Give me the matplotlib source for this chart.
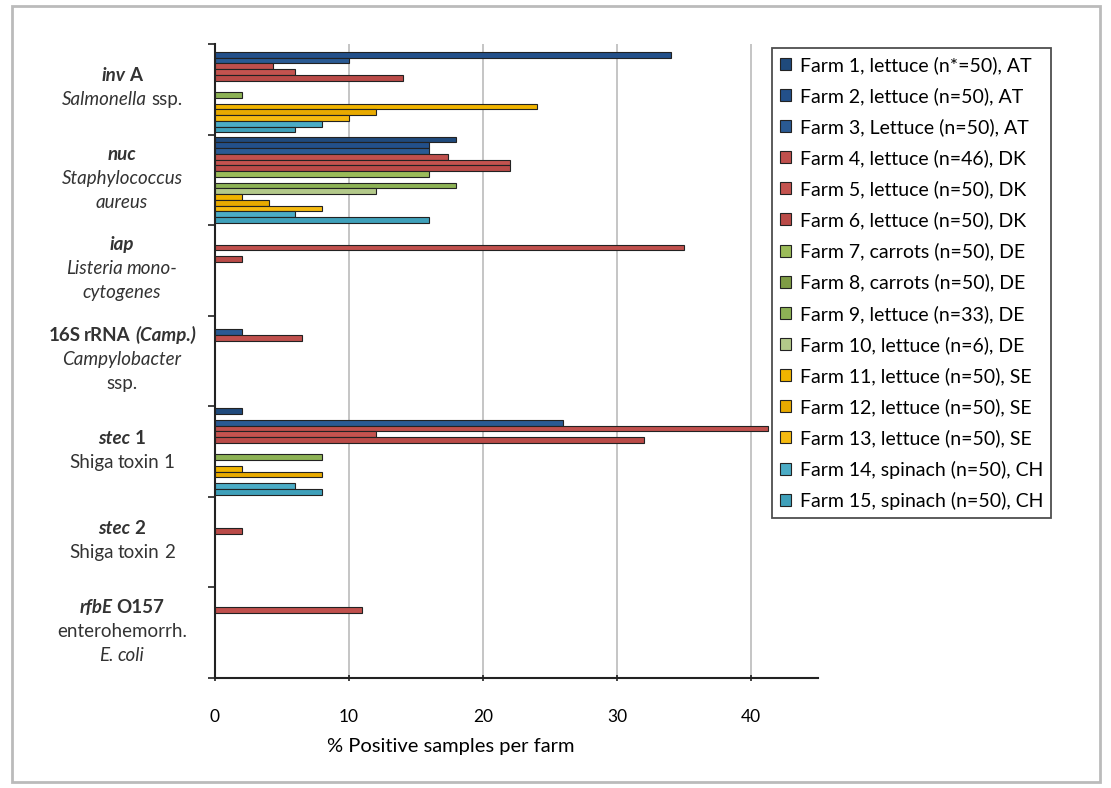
import matplotlib.pyplot as plt
import numpy as np
from matplotlib.patches import Rectangle, Patch
from matplotlib.transforms import IdentityTransform

plt.rcParams['font.family'] = ['Lato', 'DejaVu Sans']

farms = ['Farm 1, lettuce (n*=50), AT', 'Farm 2, lettuce (n=50), AT',
         'Farm 3, Lettuce (n=50), AT', 'Farm 4, lettuce (n=46), DK',
         'Farm 5, lettuce (n=50), DK', 'Farm 6, lettuce (n=50), DK',
         'Farm 7, carrots (n=50), DE', 'Farm 8, carrots (n=50), DE',
         'Farm 9, lettuce (n=33), DE', 'Farm 10, lettuce (n=6), DE',
         'Farm 11, lettuce (n=50), SE', 'Farm 12, lettuce (n=50), SE',
         'Farm 13, lettuce (n=50), SE', 'Farm 14, spinach (n=50), CH',
         'Farm 15, spinach (n=50), CH']
colors = ['#1F4A7C', '#23508A', '#2A5A93',
          '#C0504D', '#C4534F', '#BA4B48',
          '#9BBB59', '#7F9C45', '#8DB255', '#B3C98A',
          '#F0B400', '#E8AA00', '#F5BA10',
          '#4BACC6', '#3FA0BA']

# % positive samples per farm (farm 1..15) for each target gene
inv_a = [0, 34, 10, 4.3, 6, 14, 0, 0, 2, 0, 24, 12, 10, 8, 6]
nuc = [18, 16, 16, 17.4, 22, 22, 16, 0, 18, 12, 2, 4, 8, 6, 16]
iap = [0, 0, 0, 35, 0, 2, 0, 0, 0, 0, 0, 0, 0, 0, 0]
rrna_16s = [0, 0, 2, 6.5, 0, 0, 0, 0, 0, 0, 0, 0, 0, 0, 0]
stec1 = [2, 0, 26, 41.3, 12, 32, 0, 0, 8, 0, 2, 8, 0, 6, 8]
stec2 = [0, 0, 0, 0, 0, 2, 0, 0, 0, 0, 0, 0, 0, 0, 0]
rfbe = [0, 0, 0, 11, 0, 0, 0, 0, 0, 0, 0, 0, 0, 0, 0]

genes = [inv_a, nuc, iap, rrna_16s, stec1, stec2, rfbe]
values = np.array(genes)  # shape (7, 15)

# category labels: list of lines, each line a list of (text, weight, style)
gene_labels = [
    [[('inv', 'bold', 'italic'), ('A', 'bold', 'normal')],
     [('Salmonella', 'normal', 'italic'), ('ssp.', 'normal', 'normal')]],
    [[('nuc', 'bold', 'italic')],
     [('Staphylococcus', 'normal', 'italic')],
     [('aureus', 'normal', 'italic')]],
    [[('iap', 'bold', 'italic')],
     [('Listeria', 'normal', 'italic'), ('mono-', 'normal', 'italic')],
     [('cytogenes', 'normal', 'italic')]],
    [[('16S', 'bold', 'normal'), ('rRNA', 'bold', 'normal'), ('(Camp.)', 'bold', 'italic')],
     [('Campylobacter', 'normal', 'italic')],
     [('ssp.', 'normal', 'normal')]],
    [[('stec', 'bold', 'italic'), ('1', 'bold', 'normal')],
     [('Shiga', 'normal', 'normal'), ('toxin', 'normal', 'normal'), ('1', 'normal', 'normal')]],
    [[('stec', 'bold', 'italic'), ('2', 'bold', 'normal')],
     [('Shiga', 'normal', 'normal'), ('toxin', 'normal', 'normal'), ('2', 'normal', 'normal')]],
    [[('rfbE', 'bold', 'italic'), ('O157', 'bold', 'normal')],
     [('enterohemorrh.', 'normal', 'normal')],
     [('E.', 'normal', 'italic'), ('coli', 'normal', 'italic')]],
]

W, H = 1111, 788
fig = plt.figure(figsize=(W / 100, H / 100), dpi=100)
ax = fig.add_axes([215 / W, 1 - 678 / H, (818 - 215) / W, (678 - 44) / H])

y = np.arange(len(genes))
bh = 0.0635
for k in range(len(farms)):
    bars = ax.barh(y + (k - 7) * bh, values[:, k], height=bh, color=colors[k],
                   edgecolor='#222222', linewidth=0.8, zorder=3)
    for p in bars.patches:
        if p.get_width() == 0:
            p.set_visible(False)

ax.set_xlim(0, 45)
ax.set_ylim(len(genes) - 0.5, -0.5)
ax.set_xticks([0, 10, 20, 30, 40])
ax.set_yticks(np.arange(-0.5, len(genes)), labels=[])
ax.tick_params(axis='y', length=5, width=1.2, direction='out', color='#222222')
ax.tick_params(axis='x', length=5, width=1.2, direction='inout', color='#222222',
               labelsize=12.5, pad=20)
ax.grid(axis='x', color='#BBBBBB', linewidth=1.2, zorder=0)
ax.set_axisbelow(True)
for s in ['top', 'right']:
    ax.spines[s].set_visible(False)
for s in ['left', 'bottom']:
    ax.spines[s].set_linewidth(1.5)
    ax.spines[s].set_color('#222222')
ax.set_xlabel('% Positive samples per farm', fontsize=14.5, labelpad=7)
ax.xaxis.set_label_coords((451 - 215) / 603, -0.095)

handles = [Patch(facecolor=c, edgecolor='#222222', linewidth=0.8) for c in colors]
leg = ax.legend(handles, farms, loc='upper left',
                bbox_to_anchor=(772 / W, 1 - 48 / H), bbox_transform=fig.transFigure,
                fontsize=14, frameon=True, fancybox=False, edgecolor='#222222',
                handlelength=0.57, handleheight=0.57, handletextpad=0.45,
                labelspacing=0.68, borderpad=0.4, borderaxespad=0)
leg.get_frame().set_linewidth(1.3)

# multi-style category labels, centred at x=122 px
fig.canvas.draw()
r = fig.canvas.get_renderer()
cx = 122
gap = 4
line_h = 24
for gi, lines in enumerate(gene_labels):
    n = len(lines)
    yc = ax.transData.transform((0, gi))[1]
    for li, parts in enumerate(lines):
        yb = yc - (li - (n - 1) / 2) * line_h - 4
        texts = [fig.text(0, 0, s, fontweight=w, fontstyle=st, fontsize=13.5,
                          color='#333333', transform=IdentityTransform(),
                          va='baseline', ha='left') for s, w, st in parts]
        widths = [t.get_window_extent(r).width for t in texts]
        total = sum(widths) + gap * (len(texts) - 1)
        x = cx - total / 2
        for t, wd in zip(texts, widths):
            t.set_position((x, yb))
            x += wd + gap

fig.patches.append(Rectangle((12 / W, 6 / H), (1100 - 12) / W, (782 - 6) / H,
                             transform=fig.transFigure, fill=False,
                             edgecolor='#BBBBBB', linewidth=2))

fig.savefig('out.png', dpi=100)
